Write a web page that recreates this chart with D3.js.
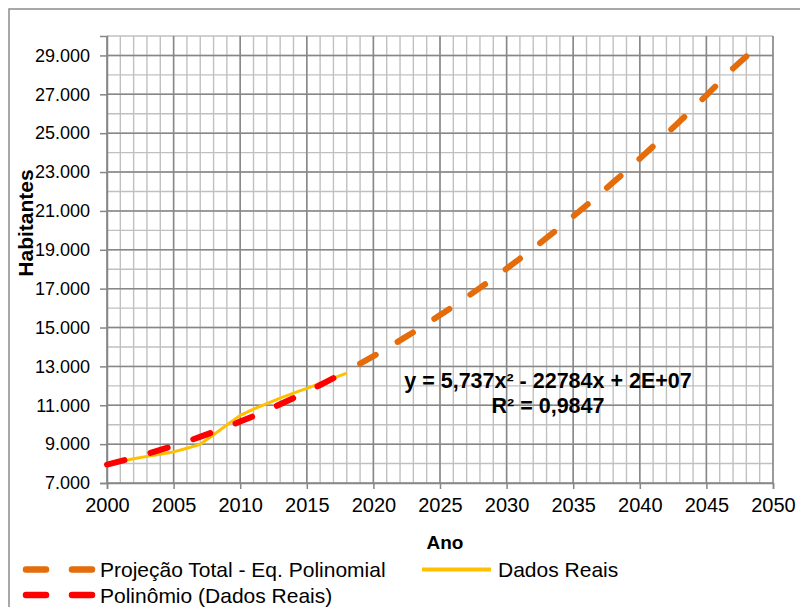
<!DOCTYPE html>
<html>
<head>
<meta charset="utf-8">
<script src="https://cdn.jsdelivr.net/npm/d3@7"></script>
<style>
  body { margin: 0; background: #fff; }
  svg { display: block; font-family: "Liberation Sans", Arial, sans-serif; }
  .axis text { fill: #000; }
</style>
</head>
<body>
<div id="chart"></div>
<script>
// Dados Reais (habitantes por ano)
const realYears = [2000, 2001, 2002, 2003, 2004, 2005, 2006, 2007, 2008, 2009,
  2010, 2011, 2012, 2013, 2014, 2015, 2016, 2017, 2018];
const realValues = [7950, 8100, 8250, 8370, 8480, 8600, 8790, 8990, 9480, 9980,
  10480, 10800, 11090, 11370, 11620, 11870, 12130, 12400, 12650];

// Polinômio (Dados Reais) - linha de tendência
const trendYears = [2000, 2002, 2004, 2006, 2008, 2010, 2012, 2014, 2016, 2018];
const trendValues = [7950, 8300, 8700, 9140, 9630, 10160, 10740, 11370, 12040, 12760];

// Projeção Total - Eq. Polinomial
const projYears = [2019, 2020, 2021, 2022, 2023, 2024, 2025, 2026, 2027, 2028,
  2029, 2030, 2031, 2032, 2033, 2034, 2035, 2036, 2037, 2038,
  2039, 2040, 2041, 2042, 2043, 2044, 2045, 2046, 2047, 2048];
const projValues = [13140, 13530, 13920, 14340, 14760, 15190, 15640, 16090, 16560, 17040,
  17530, 18030, 18550, 19070, 19610, 20160, 20720, 21290, 21870, 22470,
  23070, 23690, 24320, 24960, 25610, 26270, 26950, 27630, 28330, 28950];

const xTicks = [2000, 2005, 2010, 2015, 2020, 2025, 2030, 2035, 2040, 2045, 2050];
const yTicks = [7000, 9000, 11000, 13000, 15000, 17000, 19000, 21000, 23000, 25000, 27000, 29000];

const legendItems = [
  { label: "Projeção Total - Eq. Polinomial", color: "#E46C0A", dashed: true, col: 0, row: 0 },
  { label: "Dados Reais", color: "#FFC000", dashed: false, col: 1, row: 0 },
  { label: "Polinômio (Dados Reais)", color: "#FF0000", dashed: true, col: 0, row: 1 }
];

const width = 800, height = 607;
const margin = { top: 36, right: 27, bottom: 124, left: 107 };
const innerW = width - margin.left - margin.right;
const innerH = height - margin.top - margin.bottom;

const svg = d3.select("#chart").append("svg")
  .attr("width", width)
  .attr("height", height);

// outer chart border
svg.append("rect")
  .attr("x", 9).attr("y", 9)
  .attr("width", 800).attr("height", 620)
  .attr("fill", "#fff")
  .attr("stroke", "#8c8c8c")
  .attr("stroke-width", 1.5);

const g = svg.append("g")
  .attr("transform", "translate(" + margin.left + "," + margin.top + ")");

const x = d3.scaleLinear().domain([2000, 2050]).range([0, innerW]);
const y = d3.scaleLinear().domain([7000, 30000]).range([innerH, 0]);

const ptBR = d3.formatLocale({ decimal: ",", thousands: ".", grouping: [3], currency: ["R$", ""] });
const fmt = ptBR.format(",.0f");

// minor grid
const minor = g.append("g").attr("class", "grid-minor");
minor.selectAll("line.v")
  .data(d3.range(2000, 2051, 1))
  .join("line")
  .attr("class", "v")
  .attr("x1", (d) => x(d)).attr("x2", (d) => x(d))
  .attr("y1", 0).attr("y2", innerH);
minor.selectAll("line.h")
  .data(d3.range(8000, 30001, 1000))
  .join("line")
  .attr("class", "h")
  .attr("x1", 0).attr("x2", innerW)
  .attr("y1", (d) => y(d)).attr("y2", (d) => y(d));
minor.selectAll("line")
  .attr("stroke", "#c0c0c0")
  .attr("stroke-width", 1.4);

// major grid
const major = g.append("g").attr("class", "grid-major");
major.selectAll("line.v")
  .data(xTicks)
  .join("line")
  .attr("class", "v")
  .attr("x1", (d) => x(d)).attr("x2", (d) => x(d))
  .attr("y1", 0).attr("y2", innerH);
major.selectAll("line.h")
  .data(yTicks)
  .join("line")
  .attr("class", "h")
  .attr("x1", 0).attr("x2", innerW)
  .attr("y1", (d) => y(d)).attr("y2", (d) => y(d));
major.selectAll("line")
  .attr("stroke", "#878787")
  .attr("stroke-width", 1.5);

// axes
const xAxis = d3.axisBottom(x).tickValues(xTicks).tickSize(6).tickPadding(8).tickFormat(d3.format("d"));
const yAxis = d3.axisLeft(y).tickValues(yTicks).tickSize(7).tickPadding(10).tickFormat(fmt);

g.append("g")
  .attr("class", "axis x-axis")
  .attr("transform", "translate(0," + innerH + ")")
  .call(xAxis)
  .call((a) => a.select(".domain").attr("stroke", "#878787").attr("stroke-width", 1.5))
  .call((a) => a.selectAll(".tick line").attr("stroke", "#878787").attr("stroke-width", 1.5))
  .call((a) => a.selectAll("text").attr("font-size", 20).attr("dy", "0.75em"));

g.append("g")
  .attr("class", "axis y-axis")
  .call(yAxis)
  .call((a) => a.select(".domain").attr("stroke", "#878787").attr("stroke-width", 1.5))
  .call((a) => a.selectAll(".tick line").attr("stroke", "#878787").attr("stroke-width", 1.5))
  .call((a) => a.selectAll("text").attr("font-size", 18));

g.selectAll(".axis").attr("font-family", null);

const line = d3.line()
  .x((d) => x(d[0]))
  .y((d) => y(d[1]))
  .curve(d3.curveMonotoneX);

// Projeção
const proj = g.append("path")
  .datum(d3.zip(projYears, projValues))
  .attr("d", line)
  .attr("fill", "none")
  .attr("stroke", "#E46C0A")
  .attr("stroke-width", 6)
  .attr("stroke-linecap", "round");
// dash pattern so the series ends on a full dash, like in the spreadsheet
const projLen = proj.node().getTotalLength();
const nDash = Math.round((projLen - 18) / 45);
proj.attr("stroke-dasharray", "18," + ((projLen - 18) / nDash - 18));

// Dados Reais
g.append("path")
  .datum(d3.zip(realYears, realValues))
  .attr("d", d3.line().x((d) => x(d[0])).y((d) => y(d[1])))
  .attr("fill", "none")
  .attr("stroke", "#FFC000")
  .attr("stroke-width", 3)
  .attr("stroke-linejoin", "round");

// Polinômio (tendência)
g.append("path")
  .datum(d3.zip(trendYears, trendValues))
  .attr("d", line)
  .attr("fill", "none")
  .attr("stroke", "#FF0000")
  .attr("stroke-width", 6)
  .attr("stroke-linecap", "round")
  .attr("stroke-dasharray", "18,27");

// equação da tendência
const eq = g.append("text")
  .attr("x", 548 - margin.left)
  .attr("y", 388 - margin.top)
  .attr("text-anchor", "middle")
  .attr("font-size", 21.5)
  .attr("font-weight", "bold");
eq.append("tspan").text("y = 5,737x² - 22784x + 2E+07");
eq.append("tspan")
  .attr("x", 548 - margin.left)
  .attr("dy", 25)
  .text("R² = 0,9847");

// axis titles
svg.append("text")
  .attr("x", 445).attr("y", 549)
  .attr("text-anchor", "middle")
  .attr("font-size", 19)
  .attr("font-weight", "bold")
  .text("Ano");

svg.append("text")
  .attr("transform", "translate(33,223) rotate(-90)")
  .attr("text-anchor", "middle")
  .attr("font-size", 21)
  .attr("font-weight", "bold")
  .text("Habitantes");

// legenda
const legend = svg.append("g").attr("class", "legend");
const legendRows = [569.5, 595];
const legendCols = [23, 422];
legendItems.forEach((d) => {
  const lx = legendCols[d.col], ly = legendRows[d.row];
  const w = d.dashed ? 74 : 69;
  legend.append("line")
    .attr("x1", lx + (d.dashed ? 3 : 0)).attr("x2", lx + w)
    .attr("y1", ly).attr("y2", ly)
    .attr("stroke", d.color)
    .attr("stroke-width", d.dashed ? 6.5 : 4)
    .attr("stroke-linecap", d.dashed ? "round" : "butt")
    .attr("stroke-dasharray", d.dashed ? "20,26" : null);
  legend.append("text")
    .attr("x", lx + w + (d.dashed ? 3 : 7))
    .attr("y", ly)
    .attr("dy", "0.36em")
    .attr("font-size", 21)
    .text(d.label);
});
</script>
</body>
</html>
